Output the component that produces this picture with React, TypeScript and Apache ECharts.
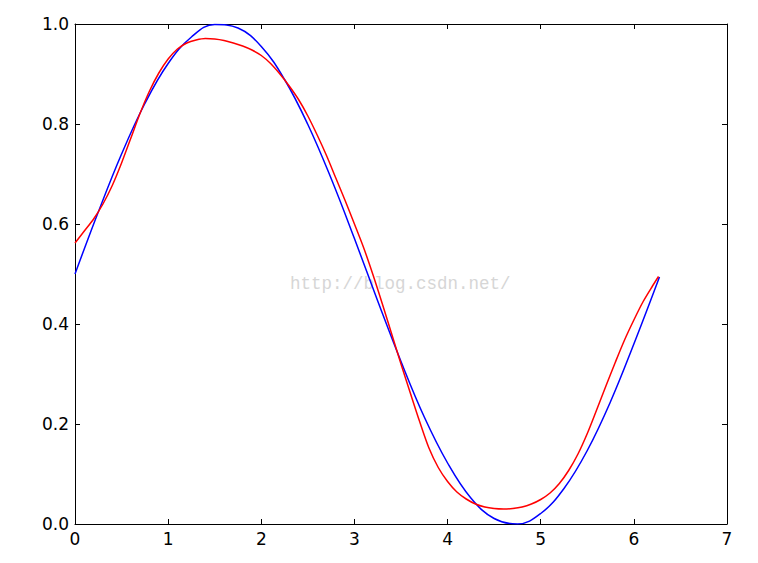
import React, { useEffect, useRef } from "react";
import * as echarts from "echarts";

// Blue curve (target)
const blueX = [0, 0.25, 0.5, 0.75, 1.0, 1.25, 1.5, 1.75, 2.0, 2.25, 2.5, 2.75, 3.0, 3.25, 3.5, 3.75, 4.0, 4.25, 4.5, 4.75, 5.0, 5.25, 5.5, 5.75, 6.0, 6.275];
const blueY = [0.5, 0.624, 0.74, 0.841, 0.921, 0.974, 0.999, 0.992, 0.955, 0.889, 0.799, 0.691, 0.571, 0.446, 0.325, 0.214, 0.122, 0.052, 0.011, 0.0, 0.021, 0.071, 0.147, 0.245, 0.36, 0.494];

// Red curve (fit)
const redX = [0, 0.1, 0.2, 0.3, 0.4, 0.5, 0.6, 0.7, 0.8, 0.9, 1.0, 1.1, 1.2, 1.3, 1.4, 1.5, 1.6, 1.7, 1.8, 1.9, 2.0, 2.1, 2.2, 2.3, 2.4, 2.5, 2.6, 2.7, 2.8, 2.9, 3.0, 3.1, 3.2, 3.3, 3.4, 3.5, 3.6, 3.7, 3.8, 3.9, 4.0, 4.1, 4.2, 4.3, 4.4, 4.5, 4.6, 4.7, 4.8, 4.9, 5.0, 5.1, 5.2, 5.3, 5.4, 5.5, 5.6, 5.7, 5.8, 5.9, 6.0, 6.1, 6.2, 6.265];
const redY = [0.562, 0.586, 0.61, 0.64, 0.677, 0.722, 0.772, 0.822, 0.866, 0.902, 0.93, 0.95, 0.962, 0.968, 0.971, 0.97, 0.967, 0.962, 0.956, 0.948, 0.937, 0.921, 0.9, 0.876, 0.849, 0.816, 0.778, 0.737, 0.692, 0.647, 0.6, 0.552, 0.498, 0.44, 0.38, 0.32, 0.262, 0.205, 0.152, 0.113, 0.085, 0.064, 0.05, 0.04, 0.034, 0.031, 0.03, 0.031, 0.034, 0.04, 0.049, 0.062, 0.081, 0.107, 0.14, 0.181, 0.228, 0.276, 0.323, 0.368, 0.408, 0.445, 0.476, 0.495];

const xTicks = { min: 0, max: 7, interval: 1 };
const yTicks = { min: 0, max: 1, interval: 0.2 };
const watermark = "http://blog.csdn.net/";

export default function App() {
  const ref = useRef<HTMLDivElement>(null);
  useEffect(() => {
    document.body.style.margin = "0";
    const chart = echarts.init(ref.current!, undefined, { renderer: "svg" });
    const axisLine = { show: true, onZero: false, lineStyle: { color: "#000", width: 1 } };
    const tick = { show: true, inside: true, length: 5, lineStyle: { color: "#000", width: 1 } };
    const label = { color: "#000", fontSize: 17, fontFamily: "DejaVu Sans", margin: 6 };
    chart.setOption({
      animation: false,
      backgroundColor: "#fff",
      grid: { left: 75, right: 31, top: 24, bottom: 39 },
      xAxis: [
        {
          type: "value", ...xTicks, position: "bottom",
          axisLine, axisTick: tick, splitLine: { show: false },
          axisLabel: { ...label, formatter: (v: number) => String(v) },
        },
        {
          type: "value", ...xTicks, position: "top",
          axisLine, axisTick: tick, splitLine: { show: false },
          axisLabel: { show: false },
        },
      ],
      yAxis: [
        {
          type: "value", ...yTicks, position: "left",
          axisLine, axisTick: tick, splitLine: { show: false },
          axisLabel: { ...label, formatter: (v: number) => v.toFixed(1) },
        },
        {
          type: "value", ...yTicks, position: "right",
          axisLine, axisTick: tick, splitLine: { show: false },
          axisLabel: { show: false },
        },
      ],
      graphic: [
        {
          type: "text",
          x: 290,
          y: 284,
          silent: true,
          style: {
            text: watermark,
            fill: "#d6d6d6",
            fontSize: 17.5,
            fontFamily: "Liberation Mono",
            verticalAlign: "middle",
          },
        },
      ],
      series: [
        {
          type: "line",
          data: blueX.map((x, i) => [x, blueY[i]]),
          showSymbol: false,
          smooth: 0.4,
          lineStyle: { color: "#0000ff", width: 1.5 },
          itemStyle: { color: "#0000ff" },
        },
        {
          type: "line",
          data: redX.map((x, i) => [x, redY[i]]),
          showSymbol: false,
          smooth: 0.3,
          lineStyle: { color: "#ff0000", width: 1.5 },
          itemStyle: { color: "#ff0000" },
        },
      ],
    });
    return () => chart.dispose();
  }, []);
  return <div ref={ref} style={{ position: "fixed", left: 0, top: 0, width: 758, height: 563 }} />;
}
